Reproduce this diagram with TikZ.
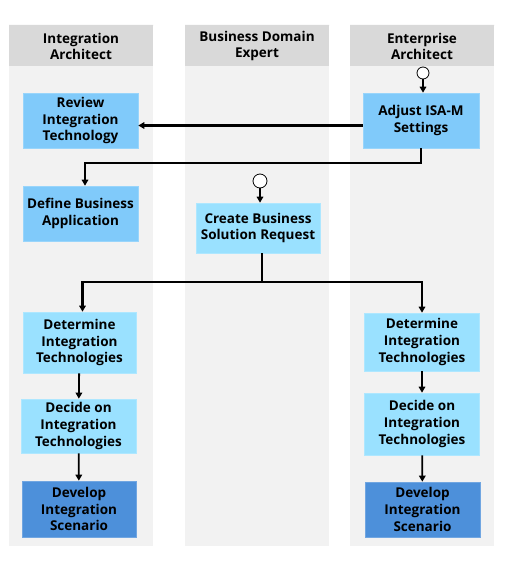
\documentclass[tikz,border=0pt]{standalone}
\usepackage{fontspec}
\setmainfont{Open Sans}
\usetikzlibrary{arrows.meta}

\definecolor{headgray}{HTML}{D9D9D9}
\definecolor{lanegray}{HTML}{F2F2F2}
\definecolor{skyblue}{HTML}{80CAFA}
\definecolor{paleblue}{HTML}{9AE1FF}
\definecolor{deepblue}{HTML}{4D90DA}

\tikzset{
  lanehead/.style={fill=headgray, minimum width=144, minimum height=40, align=center, font=\fontsize{13.5}{16}\selectfont\bfseries},
  task/.style={draw=#1!80!white, fill=#1, line width=0.6pt, align=center, inner sep=1pt, font=\fontsize{13.5}{16.7}\selectfont\bfseries},
  start/.style={circle, draw, fill=white, line width=0.8pt, minimum size=12, inner sep=0pt},
  flow/.style={line width=2.2pt, -{Triangle[length=6pt, width=6.5pt]}},
  thinflow/.style={line width=1.8pt, -{Triangle[length=6pt, width=6.5pt]}}
}

\begin{document}
\begin{tikzpicture}[x=1pt, y=-1pt]
    \useasboundingbox (0,0) rectangle (511,567);

    % swim lanes
    \foreach \xl in {9, 185, 350} {
      \fill[lanegray] (\xl,65) rectangle (\xl+144,546);
    }
    \node[lanehead] (laneIA) at (81,46) {Integration\\Architect};
    \node[lanehead] (laneBDE) at (257,46) {Business Domain\\Expert};
    \node[lanehead] (laneEA) at (422,46) {Enterprise\\Architect};
    \fill[headgray] (9,25) rectangle (153,26) (185,25) rectangle (329,26) (350,25) rectangle (494,26);

    % start events
    \node[start] (startEA) at (423,73) {};
    \node[start, minimum size=14] (startBDE) at (260,181) {};

    % tasks
    \node[task=skyblue, minimum width=115, minimum height=55] (review) at (80.5,120.5) {Review\\Integration\\Technology};
    \node[task=skyblue, minimum width=116, minimum height=55] (adjust) at (421,120.5) {Adjust ISA-M\\Settings};
    \node[task=skyblue, minimum width=115, minimum height=55] (define) at (80.5,213.5) {Define Business\\Application};
    \node[task=paleblue, minimum width=124, minimum height=50] (create) at (258,228) {Create Business\\Solution Request};

    \node[task=paleblue, minimum width=113, minimum height=61] (detL) at (79.5,342.5) {Determine\\Integration\\Technologies};
    \node[task=paleblue, minimum width=115, minimum height=54] (decL) at (78.5,426) {Decide on\\Integration\\Technologies};
    \node[task=deepblue, minimum width=114, minimum height=56] (devL) at (79,509) {Develop\\Integration\\Scenario};

    \node[task=paleblue, minimum width=115, minimum height=58] (detR) at (422,342) {Determine\\Integration\\Technologies};
    \node[task=paleblue, minimum width=115, minimum height=62] (decR) at (422,424) {Decide on\\Integration\\Technologies};
    \node[task=deepblue, minimum width=115, minimum height=55] (devR) at (422.5,509.5) {Develop\\Integration\\Scenario};

    % connectors
    \coordinate (bendA) at (85,163);
    \coordinate (split) at (262,282);

    \draw[thinflow] (startEA) -- (startEA |- adjust.north);
    \draw[thinflow] (startBDE) -- (startBDE |- create.north);
    \draw[flow] ([yshift=-5pt]adjust.west) -- ([yshift=-5pt]review.east);
    \draw[flow] (adjust.south) |- (bendA) -- (bendA |- define.north);
    \draw[line width=2.2pt] (split |- create.south) -- (split);
    \draw[flow] (split) -| ([xshift=3pt]detL.north);
    \draw[flow] (split) -| (detR.north);

    \draw[thinflow] (detL) -- (decL);
    \draw[thinflow] (decL) -- (devL);
    \draw[thinflow] (detR) -- (decR);
    \draw[thinflow] (decR) -- (devR);
\end{tikzpicture}
\end{document}
